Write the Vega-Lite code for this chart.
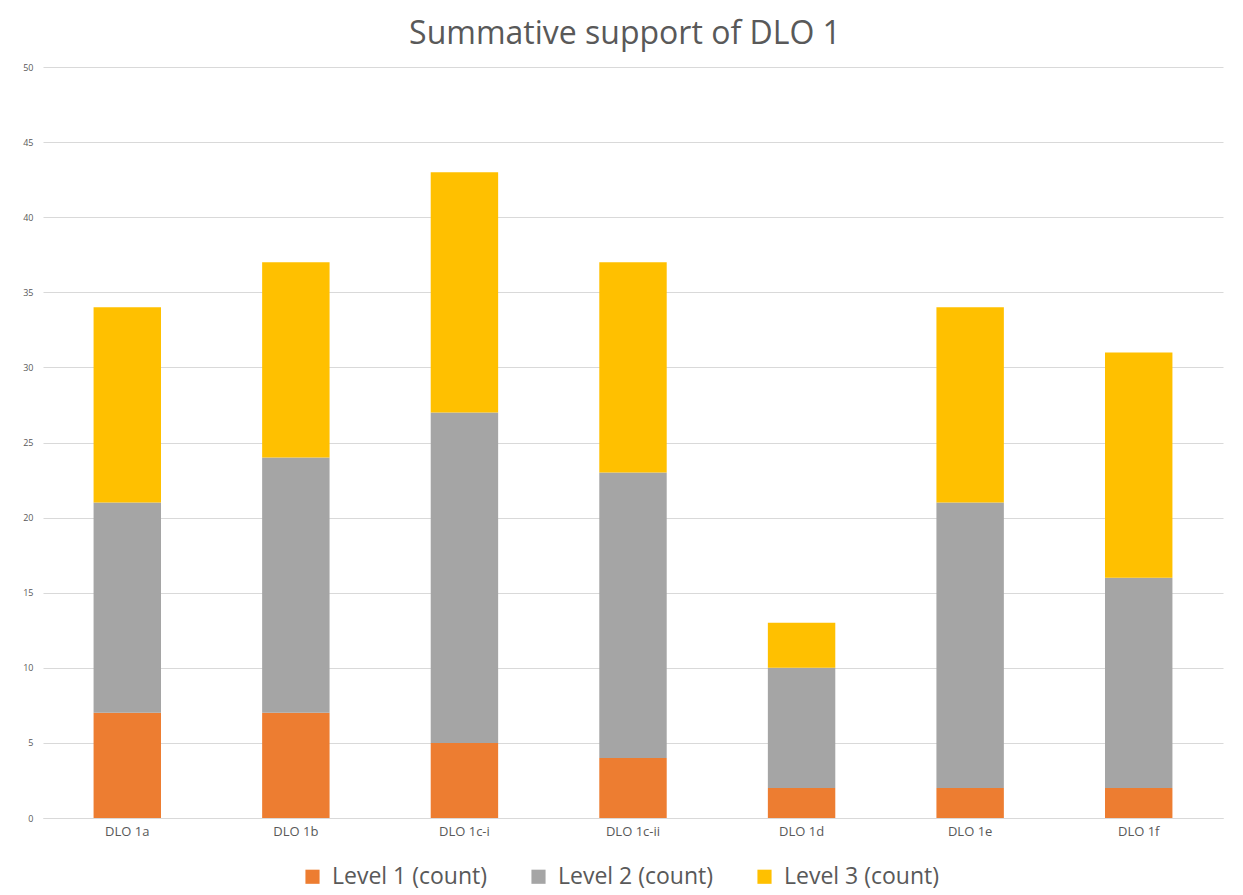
{
  "$schema": "https://vega.github.io/schema/vega-lite/v6.json",
  "width": 1180,
  "height": 751,
  "autosize": {"type": "none"},
  "padding": {"left": 43, "top": 67, "right": 20, "bottom": 77},
  "background": "white",
  "title": {
    "text": "Summative support of DLO 1",
    "fontSize": 32,
    "font": "Open Sans",
    "fontWeight": "normal",
    "color": "#595959",
    "anchor": "middle",
    "dx": -8,
    "offset": 12
  },
  "data": {
    "values": [
      {"dlo": "DLO 1a", "level": "Level 1 (count)", "ord": 1, "count": 7},
      {"dlo": "DLO 1a", "level": "Level 2 (count)", "ord": 2, "count": 14},
      {"dlo": "DLO 1a", "level": "Level 3 (count)", "ord": 3, "count": 13},
      {"dlo": "DLO 1b", "level": "Level 1 (count)", "ord": 1, "count": 7},
      {"dlo": "DLO 1b", "level": "Level 2 (count)", "ord": 2, "count": 17},
      {"dlo": "DLO 1b", "level": "Level 3 (count)", "ord": 3, "count": 13},
      {"dlo": "DLO 1c-i", "level": "Level 1 (count)", "ord": 1, "count": 5},
      {"dlo": "DLO 1c-i", "level": "Level 2 (count)", "ord": 2, "count": 22},
      {"dlo": "DLO 1c-i", "level": "Level 3 (count)", "ord": 3, "count": 16},
      {"dlo": "DLO 1c-ii", "level": "Level 1 (count)", "ord": 1, "count": 4},
      {"dlo": "DLO 1c-ii", "level": "Level 2 (count)", "ord": 2, "count": 19},
      {"dlo": "DLO 1c-ii", "level": "Level 3 (count)", "ord": 3, "count": 14},
      {"dlo": "DLO 1d", "level": "Level 1 (count)", "ord": 1, "count": 2},
      {"dlo": "DLO 1d", "level": "Level 2 (count)", "ord": 2, "count": 8},
      {"dlo": "DLO 1d", "level": "Level 3 (count)", "ord": 3, "count": 3},
      {"dlo": "DLO 1e", "level": "Level 1 (count)", "ord": 1, "count": 2},
      {"dlo": "DLO 1e", "level": "Level 2 (count)", "ord": 2, "count": 19},
      {"dlo": "DLO 1e", "level": "Level 3 (count)", "ord": 3, "count": 13},
      {"dlo": "DLO 1f", "level": "Level 1 (count)", "ord": 1, "count": 2},
      {"dlo": "DLO 1f", "level": "Level 2 (count)", "ord": 2, "count": 14},
      {"dlo": "DLO 1f", "level": "Level 3 (count)", "ord": 3, "count": 15}
    ]
  },
  "mark": {"type": "bar"},
  "encoding": {
    "x": {
      "field": "dlo",
      "type": "nominal",
      "sort": null,
      "scale": {"paddingInner": 0.6, "paddingOuter": 0.3},
      "axis": {
        "title": null,
        "labelAngle": 0,
        "labelFont": "Open Sans",
        "labelFontSize": 13,
        "labelColor": "#595959",
        "ticks": false,
        "domainColor": "#D9D9D9",
        "labelPadding": 7
      }
    },
    "y": {
      "field": "count",
      "type": "quantitative",
      "stack": "zero",
      "scale": {"domain": [0, 50], "nice": false},
      "axis": {
        "title": null,
        "values": [0, 5, 10, 15, 20, 25, 30, 35, 40, 45, 50],
        "labelFont": "Open Sans",
        "labelFontSize": 9,
        "labelColor": "#595959",
        "ticks": false,
        "domain": false,
        "gridColor": "#D9D9D9",
        "labelPadding": 10
      }
    },
    "color": {
      "field": "level",
      "type": "nominal",
      "scale": {
        "domain": ["Level 1 (count)", "Level 2 (count)", "Level 3 (count)"],
        "range": ["#ED7D31", "#A5A5A5", "#FFC000"]
      },
      "legend": {
        "title": null,
        "orient": "none",
        "direction": "horizontal",
        "legendX": 258,
        "legendY": 798,
        "symbolType": "square",
        "symbolSize": 200,
        "symbolStrokeWidth": 0,
        "labelFont": "Open Sans",
        "labelFontSize": 23,
        "labelLimit": 400,
        "labelColor": "#595959",
        "columnPadding": 39,
        "labelOffset": 8
      }
    },
    "order": {"field": "ord", "type": "quantitative", "sort": "ascending"}
  },
  "config": {
    "view": {"stroke": null},
    "axis": {"gridColor": "#D9D9D9"}
  }
}
